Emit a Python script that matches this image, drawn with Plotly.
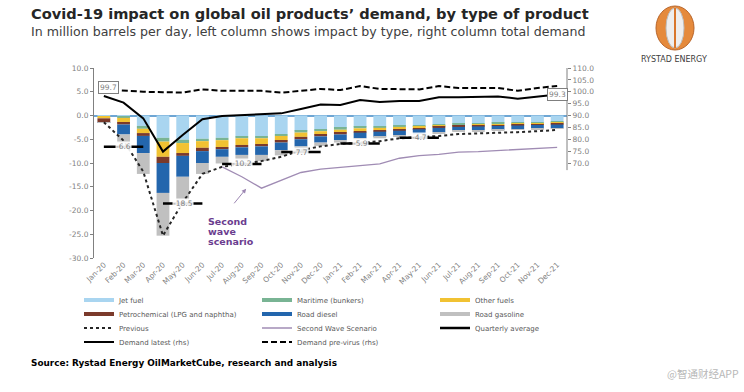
import plotly.graph_objects as go

# ---------------- data ----------------
months = ["Jan-20", "Feb-20", "Mar-20", "Apr-20", "May-20", "Jun-20", "Jul-20", "Aug-20",
          "Sep-20", "Oct-20", "Nov-20", "Dec-20", "Jan-21", "Feb-21", "Mar-21", "Apr-21",
          "May-21", "Jun-21", "Jul-21", "Aug-21", "Sep-21", "Oct-21", "Nov-21", "Dec-21"]

jet_fuel = [-0.1, -0.3, -2.2, -4.7, -5.1, -4.9, -4.7, -4.4, -4.4, -3.9, -3.2, -2.9,
            -2.6, -2.4, -2.3, -2.1, -2.0, -1.8, -1.7, -1.6, -1.5, -1.4, -1.4, -1.3]
maritime = [0.0, -0.2, -0.6, -0.8, -0.7, -0.5, -0.5, -0.4, -0.4, -0.4, -0.4, -0.4,
            -0.4, -0.3, -0.3, -0.3, -0.3, -0.3, -0.3, -0.3, -0.3, -0.3, -0.2, -0.2]
other_fuels = [-0.5, -1.0, -0.9, -3.2, -2.1, -1.4, -1.5, -1.4, -1.2, -1.0, -0.9, -0.7,
               -0.6, -0.6, -0.5, -0.5, -0.4, -0.3, -0.2, -0.2, -0.2, -0.2, -0.2, -0.2]
petrochemical = [-0.8, -0.4, -0.6, -1.3, -0.6, -0.7, -0.4, -0.5, -0.5, -0.4, -0.5, -0.4,
                 -0.4, -0.3, -0.3, -0.3, -0.2, -0.2, -0.2, -0.2, -0.2, -0.2, -0.2, -0.2]
road_diesel = [-0.05, -2.1, -3.6, -6.3, -4.4, -2.5, -1.6, -1.6, -1.8, -1.6, -1.5, -1.3,
               -1.2, -1.2, -1.1, -1.0, -1.0, -0.9, -0.8, -0.8, -0.8, -0.8, -0.8, -0.8]
road_gasoline = [-0.05, -1.8, -4.4, -9.0, -4.9, -2.3, -1.4, -1.2, -1.3, -1.1, -0.9, -0.7,
                 -0.5, -0.4, -0.3, -0.2, -0.2, -0.2, -0.2, -0.2, -0.1, -0.1, -0.1, -0.1]

previous = [-1.4, -5.3, -11.8, -25.3, -18.3, -12.3, -10.8, -10.2, -9.6, -8.7, -7.3, -6.5,
            -6.0, -5.7, -5.4, -4.8, -4.6, -4.3, -3.9, -3.8, -3.65, -3.5, -3.3, -3.05]

second_wave_months = months[6:]
second_wave = [-10.8, -12.9, -15.3, -13.6, -12.0, -11.3, -10.9, -10.6, -10.2, -9.0,
               -8.45, -8.2, -7.7, -7.6, -7.4, -7.1, -6.9, -6.7]

quarter_first_month = ["Jan-20", "Apr-20", "Jul-20", "Oct-20", "Jan-21", "Apr-21"]
quarterly_average = [-6.6, -18.5, -10.2, -7.7, -5.9, -4.7]

demand_latest = [98.2, 95.4, 88.8, 74.8, 81.8, 88.4, 89.8, 90.2, 90.5, 90.9, 92.7, 94.6,
                 94.4, 96.5, 95.7, 96.1, 96.1, 97.7, 97.7, 97.8, 98.0, 97.1, 98.0, 98.8]
demand_pre_virus = [101.0, 100.4, 100.0, 99.8, 99.7, 101.0, 100.4, 100.4, 100.4, 99.6, 100.3, 101.2,
                    100.7, 102.4, 101.2, 101.0, 101.0, 102.4, 101.6, 101.6, 101.6, 100.4, 101.6, 102.4]
start_label = "99.7"
end_label = "99.3"

left_ticks = [10, 5, 0, -5, -10, -15, -20, -25, -30]
left_tick_text = ["10.0", "5.0", "0.0", "-5.0", "-10.0", "-15.0", "-20.0", "-25.0", "-30.0"]
right_ticks = [110, 105, 100, 95, 90, 85, 80, 75, 70]
right_tick_text = ["110.0", "105.0", "100.0", "95.0", "90.0", "85.0", "80.0", "75.0", "70.0"]

# ---------------- layout geometry (screen pixels) ----------------
W_FIG, H_FIG = 744, 392
L, T, PW, PH = 94, 68, 473, 190          # plot area
R = W_FIG - L - PW
B = H_FIG - T - PH


def px(x):
    return (x - L) / PW


def py(y):
    return (T + PH - y) / PH


FONT = "DejaVu Sans"
GRAY = "#7f7f7f"

fig = go.Figure()

bar_series = [
    ("Jet fuel", jet_fuel, "#a9d5f0", "legend"),
    ("Maritime (bunkers)", maritime, "#79b494", "legend"),
    ("Other fuels", other_fuels, "#f1c232", "legend"),
    ("Petrochemical (LPG and naphtha)", petrochemical, "#7b3a2b", "legend2"),
    ("Road diesel", road_diesel, "#2366ad", "legend2"),
    ("Road gasoline", road_gasoline, "#c0c0c0", "legend2"),
]

for name, vals, col, _ in bar_series:
    fig.add_trace(go.Bar(x=months, y=vals, marker=dict(color=col, line=dict(width=0)),
                         width=0.65, name=name, showlegend=False))

for name, vals, col, lg in bar_series:
    fig.add_trace(go.Scatter(x=[None], y=[None], mode="lines", name=name,
                             line=dict(color=col, width=4), legend=lg))

fig.add_trace(go.Scatter(x=months, y=previous, mode="lines", name="Previous",
                         line=dict(color="#262626", width=2, dash="dot"), legend="legend3"))
fig.add_trace(go.Scatter(x=second_wave_months, y=second_wave, mode="lines",
                         name="Second Wave Scenario",
                         line=dict(color="#a08cb4", width=1.3), legend="legend3"))

qx, qy = [], []
for m, v in zip(quarter_first_month, quarterly_average):
    i = months.index(m)
    qx += [months[i], months[i + 2], None]
    qy += [v, v, None]
fig.add_trace(go.Scatter(x=qx, y=qy, mode="lines", name="Quarterly average",
                         line=dict(color="black", width=2.5), legend="legend3"))

fig.add_trace(go.Scatter(x=months, y=demand_latest, mode="lines", name="Demand latest (rhs)",
                         yaxis="y2", line=dict(color="black", width=2), legend="legend4"))
fig.add_trace(go.Scatter(x=months, y=demand_pre_virus, mode="lines",
                         name="Demand pre-virus (rhs)", yaxis="y2",
                         line=dict(color="black", width=2, dash="6px,3px"), legend="legend4"))

annotations = []
for m, v in zip(quarter_first_month, quarterly_average):
    i = months.index(m)
    annotations.append(dict(x=months[i + 1], y=v, text=f"{v:.1f}", showarrow=False,
                            font=dict(size=7.5, color=GRAY), bgcolor="rgba(255,255,255,0.9)",
                            borderpad=0))

annotations.append(dict(x=months[0], y=demand_pre_virus[0], yref="y2", text=start_label,
                        showarrow=False, xshift=5, yshift=2, font=dict(size=7.5, color=GRAY),
                        bgcolor="white", bordercolor=GRAY, borderwidth=1, borderpad=1))
annotations.append(dict(x=months[-1], y=demand_latest[-1], yref="y2", text=end_label,
                        showarrow=False, font=dict(size=7.5, color=GRAY),
                        bgcolor="white", bordercolor=GRAY, borderwidth=1, borderpad=1))

# second wave callout
annotations.append(dict(x=7.22, y=-15.4, ax=6.55, ay=-18.8, xref="x", yref="y", axref="x", ayref="y",
                        text="", showarrow=True, arrowhead=2, arrowsize=0.9, arrowwidth=1,
                        arrowcolor="#9c86b2"))
for k, line in enumerate(["Second", "wave", "scenario"]):
    annotations.append(dict(x=px(206), y=py(214 + 10 * k), xref="paper", yref="paper",
                            xanchor="left", yanchor="top", text=f"<b>{line}</b>", showarrow=False,
                            font=dict(size=9.5, color="#6b3d8f")))

# titles and source
annotations.append(dict(x=px(29), y=py(13), xref="paper", yref="paper", xanchor="left",
                        yanchor="middle", showarrow=False,
                        text="<b>Covid-19 impact on global oil products’ demand, by type of product</b>",
                        font=dict(size=14.6, color="#262626")))
annotations.append(dict(x=px(29), y=py(31), xref="paper", yref="paper", xanchor="left",
                        yanchor="middle", showarrow=False,
                        text="In million barrels per day, left column shows impact by type, right column total demand",
                        font=dict(size=12.6, color="#404040")))
annotations.append(dict(x=px(29), y=py(363), xref="paper", yref="paper", xanchor="left",
                        yanchor="middle", showarrow=False,
                        text="<b>Source: Rystad Energy OilMarketCube, research and analysis</b>",
                        font=dict(size=8.9, color="black")))
annotations.append(dict(x=px(674), y=py(59), xref="paper", yref="paper", xanchor="center",
                        yanchor="middle", showarrow=False, text="RYSTAD ENERGY",
                        font=dict(size=8, color="#404040")))
annotations.append(dict(x=px(741), y=py(373), xref="paper", yref="paper", xanchor="right",
                        yanchor="middle", showarrow=False, text="@智通财经APP",
                        font=dict(size=10.5, color="#b8b8b8", family="Noto Sans CJK SC")))

shapes = [
    dict(type="line", xref="paper", yref="y2", x0=1, x1=1, y0=67, y1=110,
         line=dict(color="#808080", width=1)),
    dict(type="circle", xref="paper", yref="paper", x0=px(656), x1=px(694), y0=py(50), y1=py(6),
         fillcolor="#e58a3c", line=dict(color="#b8652a", width=1)),
    dict(type="circle", xref="paper", yref="paper", x0=px(666), x1=px(684), y0=py(48), y1=py(8),
         fillcolor="#eeeeee", line=dict(color="#bdbdbd", width=1)),
    dict(type="line", xref="paper", yref="paper", x0=px(675), x1=px(675), y0=py(48), y1=py(8),
         line=dict(color="#d9772c", width=2)),
]


def legend_row(ypix):
    return dict(orientation="h", x=px(79), xanchor="left", y=py(ypix), yanchor="middle",
                entrywidth=133, entrywidthmode="pixels", itemwidth=30, traceorder="normal",
                bgcolor="rgba(0,0,0,0)", font=dict(size=7, color="#595959", family=FONT))


fig.update_layout(
    width=W_FIG, height=H_FIG,
    margin=dict(l=L, r=R, t=T, b=B, autoexpand=False),
    paper_bgcolor="white", plot_bgcolor="white",
    font=dict(family=FONT, color=GRAY),
    barmode="relative",
    xaxis=dict(type="category", range=[-0.5, 23.5], tickangle=-45, showgrid=False,
               showline=False, ticks="", tickfont=dict(size=7.5, color=GRAY)),
    yaxis=dict(range=[-30, 10], tickvals=left_ticks, ticktext=left_tick_text, showgrid=False,
               showline=True, linecolor="#808080", linewidth=1, ticks="outside", ticklen=3,
               tickcolor="#808080", tickfont=dict(size=7.5, color=GRAY),
               zeroline=True, zerolinecolor="#6ea6d4", zerolinewidth=1.5),
    yaxis2=dict(range=[30, 110], overlaying="y", side="right", tickvals=right_ticks,
                ticktext=right_tick_text, showgrid=False, showline=False, zeroline=False,
                ticks="outside", ticklen=3, tickcolor="#808080",
                tickfont=dict(size=7.5, color=GRAY)),
    legend=legend_row(300),
    legend2=legend_row(314),
    legend3=legend_row(328),
    legend4=legend_row(342),
    annotations=annotations,
    shapes=shapes,
)

fig.write_html("out.html", config={"displayModeBar": False},
               post_script="document.body.style.margin='0';document.body.style.overflow='hidden';")
